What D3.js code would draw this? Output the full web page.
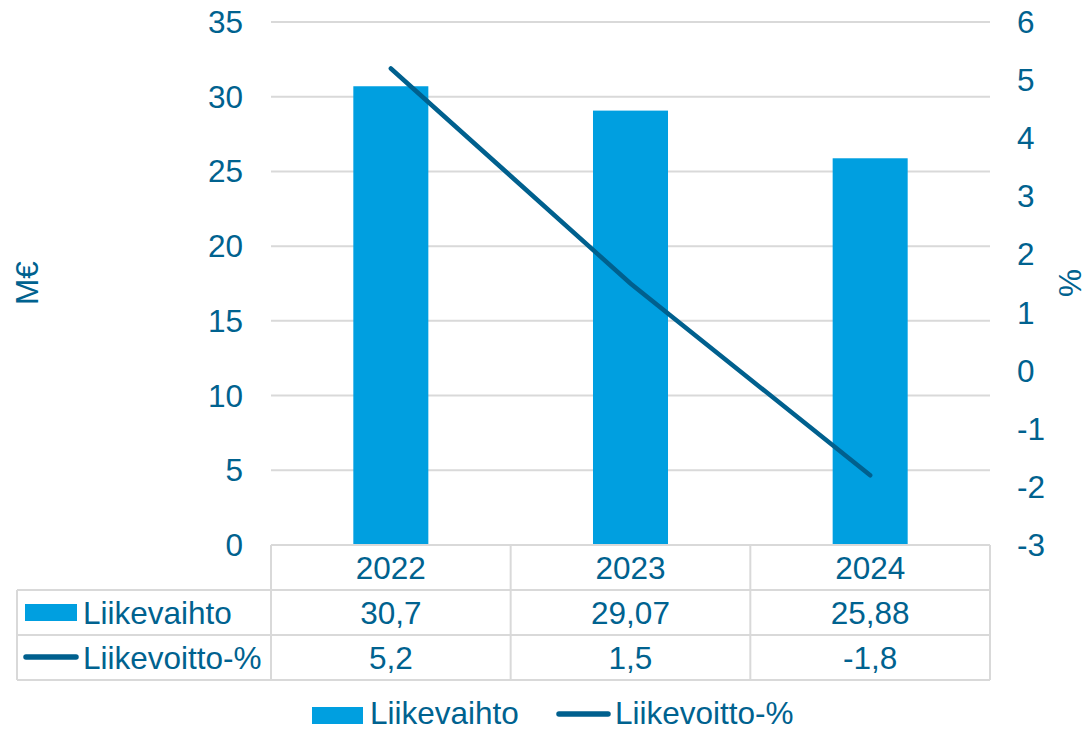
<!DOCTYPE html>
<html>
<head>
<meta charset="utf-8">
<script src="https://cdn.jsdelivr.net/npm/d3@7"></script>
<style>
  body { margin: 0; background: #fff; }
  text { font-family: "Liberation Sans", Arial, sans-serif; fill: #00628f; }
</style>
</head>
<body>
<div id="canvas"></div>
<script>
"use strict"

/* Data */
let years = ["2022", "2023", "2024"];
let liikevaihto = [30.7, 29.07, 25.88];
let liikevoitto = [5.2, 1.5, -1.8];
let liikevaihtoLabels = ["30,7", "29,07", "25,88"];
let liikevoittoLabels = ["5,2", "1,5", "-1,8"];
let leftTicks = [0, 5, 10, 15, 20, 25, 30, 35];
let rightTicks = [-3, -2, -1, 0, 1, 2, 3, 4, 5, 6];

/* Drawing config */
let svgWidth = 1089;
let svgHeight = 731;
let plotLeft = 271;
let plotRight = 990;
let plotTop = 22;
let plotBottom = 545;
let rowH = 45;
let tableLeft = 17;
let fontSize = 31.5;
let barColor = "#009fe0";
let lineColor = "#00608e";
let gridColor = "#d9d9d9";

let svg = d3.select("#canvas")
    .append("svg")
    .attr("width", svgWidth)
    .attr("height", svgHeight);

let x = d3.scaleBand()
    .domain(years)
    .range([plotLeft, plotRight])
    .paddingInner(0.687)
    .paddingOuter(0.3435);

let yLeft = d3.scaleLinear()
    .domain([0, 35])
    .range([plotBottom, plotTop]);

let yRight = d3.scaleLinear()
    .domain([-3, 6])
    .range([plotBottom, plotTop]);

let cellX = d3.scaleBand()
    .domain(years)
    .range([plotLeft, plotRight]);

/* Gridlines */
svg.selectAll("line.grid")
    .data(leftTicks.filter(d => d > 0))
    .join("line")
    .attr("class", "grid")
    .attr("x1", plotLeft)
    .attr("x2", plotRight)
    .attr("y1", d => yLeft(d))
    .attr("y2", d => yLeft(d))
    .attr("stroke", gridColor)
    .attr("stroke-width", 2);

/* Left axis labels */
svg.selectAll("text.lt")
    .data(leftTicks)
    .join("text")
    .attr("class", "lt")
    .attr("x", 243)
    .attr("y", d => yLeft(d))
    .attr("dy", "0.35em")
    .attr("text-anchor", "end")
    .style("font-size", fontSize + "px")
    .text(d => d);

/* Right axis labels */
svg.selectAll("text.rt")
    .data(rightTicks)
    .join("text")
    .attr("class", "rt")
    .attr("x", 1017)
    .attr("y", d => yRight(d))
    .attr("dy", "0.35em")
    .attr("text-anchor", "start")
    .style("font-size", fontSize + "px")
    .text(d => d);

/* Axis titles */
svg.append("text")
    .attr("transform", "translate(38,283) rotate(-90)")
    .attr("text-anchor", "middle")
    .style("font-size", fontSize + "px")
    .text("M€");

svg.append("text")
    .attr("transform", "translate(1081,283) rotate(-90)")
    .attr("text-anchor", "middle")
    .style("font-size", fontSize + "px")
    .text("%");

/* Bars */
svg.selectAll("rect.bar")
    .data(liikevaihto)
    .join("rect")
    .attr("class", "bar")
    .attr("x", (d, i) => x(years[i]))
    .attr("width", x.bandwidth())
    .attr("y", d => yLeft(d))
    .attr("height", d => yLeft(0) - yLeft(d))
    .attr("fill", barColor);

/* Line */
let line = d3.line()
    .x((d, i) => x(years[i]) + x.bandwidth() / 2)
    .y(d => yRight(d));

svg.append("path")
    .datum(liikevoitto)
    .attr("d", line)
    .attr("fill", "none")
    .attr("stroke", lineColor)
    .attr("stroke-width", 4.5)
    .attr("stroke-linecap", "round");

/* Data table */
let table = svg.append("g")
    .attr("stroke", gridColor)
    .attr("stroke-width", 2);

table.append("line")
    .attr("x1", plotLeft).attr("x2", plotRight)
    .attr("y1", plotBottom).attr("y2", plotBottom);
[1, 2, 3].forEach(function (r) {
    table.append("line")
        .attr("x1", tableLeft).attr("x2", plotRight)
        .attr("y1", plotBottom + rowH * r).attr("y2", plotBottom + rowH * r);
});
table.append("line")
    .attr("x1", tableLeft).attr("x2", tableLeft)
    .attr("y1", plotBottom + rowH).attr("y2", plotBottom + rowH * 3);
table.selectAll("line.col")
    .data(years)
    .join("line")
    .attr("class", "col")
    .attr("x1", d => cellX(d))
    .attr("x2", d => cellX(d))
    .attr("y1", plotBottom)
    .attr("y2", plotBottom + rowH * 3);
table.append("line")
    .attr("x1", plotRight).attr("x2", plotRight)
    .attr("y1", plotBottom).attr("y2", plotBottom + rowH * 3);

let rows = [years, liikevaihtoLabels, liikevoittoLabels];
rows.forEach(function (row, r) {
    svg.selectAll("text.row" + r)
        .data(row)
        .join("text")
        .attr("class", "row" + r)
        .attr("x", (d, i) => cellX(years[i]) + cellX.bandwidth() / 2)
        .attr("y", plotBottom + rowH * r + rowH / 2)
        .attr("dy", "0.35em")
        .attr("text-anchor", "middle")
        .style("font-size", fontSize + "px")
        .text(d => d);
});

/* Row legend keys */
svg.append("rect")
    .attr("x", 25).attr("y", 604)
    .attr("width", 52).attr("height", 17)
    .attr("fill", barColor);
svg.append("text")
    .attr("x", 83).attr("y", plotBottom + rowH * 1.5)
    .attr("dy", "0.35em")
    .style("font-size", fontSize + "px")
    .text("Liikevaihto");

svg.append("line")
    .attr("x1", 26).attr("x2", 76)
    .attr("y1", 657).attr("y2", 657)
    .attr("stroke", lineColor)
    .attr("stroke-width", 5.5)
    .attr("stroke-linecap", "round");
svg.append("text")
    .attr("x", 83).attr("y", plotBottom + rowH * 2.5)
    .attr("dy", "0.35em")
    .style("font-size", fontSize + "px")
    .text("Liikevoitto-%");

/* Bottom legend */
svg.append("rect")
    .attr("x", 312).attr("y", 707)
    .attr("width", 51).attr("height", 17)
    .attr("fill", barColor);
svg.append("text")
    .attr("x", 370).attr("y", 724)
    .style("font-size", fontSize + "px")
    .text("Liikevaihto");

svg.append("line")
    .attr("x1", 559).attr("x2", 608)
    .attr("y1", 714).attr("y2", 714)
    .attr("stroke", lineColor)
    .attr("stroke-width", 5.5)
    .attr("stroke-linecap", "round");
svg.append("text")
    .attr("x", 615).attr("y", 724)
    .style("font-size", fontSize + "px")
    .text("Liikevoitto-%");
</script>
</body>
</html>
